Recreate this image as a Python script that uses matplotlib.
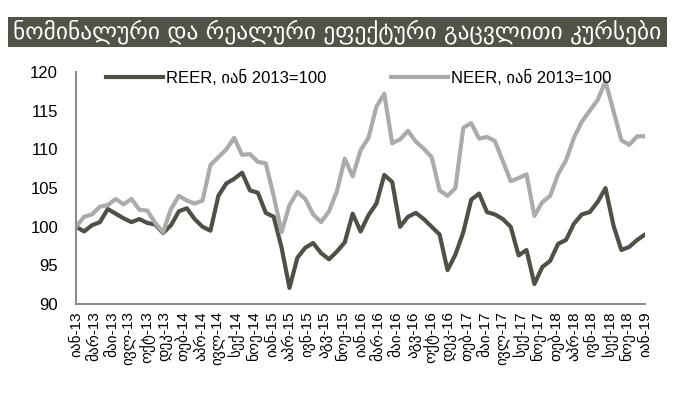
import matplotlib
matplotlib.use("Agg")
import matplotlib.pyplot as plt
from matplotlib.patches import Rectangle
import numpy as np

title = "ნომინალური და რეალური ეფექტური გაცვლითი კურსები"
reer_label = "REER, იან 2013=100"
neer_label = "NEER, იან 2013=100"

# monthly, Jan-2013 .. Jan-2019
reer = [100.0, 99.4, 100.2, 100.6, 102.3, 101.7, 101.1, 100.6, 101.0, 100.5,
        100.3, 99.2, 100.2, 102.0, 102.4, 101.0, 100.0, 99.5, 104.0, 105.6,
        106.2, 107.0, 104.7, 104.4, 101.8, 101.3, 97.3, 92.1, 96.0, 97.3,
        97.9, 96.6, 95.8, 96.8, 98.0, 101.7, 99.4, 101.5, 103.0, 106.7,
        105.8, 100.0, 101.3, 101.8, 101.0, 100.0, 99.0, 94.4, 96.4, 99.3,
        103.5, 104.3, 101.9, 101.6, 101.0, 100.0, 96.3, 97.0, 92.6, 94.8,
        95.6, 97.8, 98.3, 100.4, 101.6, 101.9, 103.2, 105.0, 100.2, 97.0,
        97.4, 98.3, 99.0]
neer = [100.0, 101.3, 101.6, 102.6, 102.8, 103.6, 102.9, 103.6, 102.2, 102.1,
        100.5, 99.3, 102.3, 104.0, 103.4, 103.0, 103.4, 108.0, 109.0, 110.0,
        111.5, 109.3, 109.4, 108.4, 108.2, 104.0, 99.3, 102.8, 104.5, 103.6,
        101.6, 100.6, 102.0, 104.6, 108.8, 106.5, 109.9, 111.5, 115.5, 117.2,
        110.8, 111.3, 112.4, 111.0, 110.1, 109.0, 104.7, 104.0, 105.0, 112.8,
        113.4, 111.4, 111.6, 111.1, 108.5, 105.9, 106.3, 106.8, 101.4, 103.2,
        104.0, 106.8, 108.6, 111.5, 113.6, 115.0, 116.4, 118.8, 115.0, 111.2,
        110.6, 111.7, 111.7]
tick_labels = ["იან-13", "მარ-13", "მაი-13", "ივლ-13", "ოქტ-13", "დეკ-13",
               "თებ-14", "აპრ-14", "ივლ-14", "სექ-14", "ნოე-14", "იან-15",
               "აპრ-15", "ივნ-15", "აგვ-15", "ნოე-15", "იან-16", "მარ-16",
               "მაი-16", "აგვ-16", "ოქტ-16", "დეკ-16", "თებ-17", "მაი-17",
               "ივლ-17", "სექ-17", "ნოე-17", "თებ-18", "აპრ-18", "ივნ-18",
               "სექ-18", "ნოე-18", "იან-19"]
y_ticks = [90, 95, 100, 105, 110, 115, 120]

fam = ["Liberation Sans", "DejaVu Sans"]
plt.rcParams["font.family"] = fam

fig = plt.figure(figsize=(6.74, 4.05), dpi=100)
fig.patches.append(Rectangle((0.012, 0.884), 0.978, 0.074, transform=fig.transFigure,
                             facecolor="#525247", edgecolor="none", zorder=0))
fig.text(0.019, 0.921, title, color="white", fontsize=16.8, va="center", ha="left",
         family=["DejaVu Sans"])

ax = fig.add_axes([0.113, 0.249, 0.844, 0.573])
x = np.arange(len(reer))
ax.plot(x, reer, color="#4F5046", lw=3, solid_joinstyle="round", label=reer_label)
ax.plot(x, neer, color="#ABABAB", lw=3, solid_joinstyle="round", label=neer_label)

ax.set_xlim(0, len(reer) - 1)
ax.set_ylim(90, 120)
ax.set_yticks(y_ticks)
ax.set_xticks(np.linspace(0, len(reer) - 1, len(tick_labels)))
ax.set_xticklabels(tick_labels, rotation=90, fontsize=11)
ax.tick_params(axis="y", length=0, pad=13, labelsize=12)
ax.tick_params(axis="x", length=0, pad=5)
for s in ["top", "right"]:
    ax.spines[s].set_visible(False)
for s in ["left", "bottom"]:
    ax.spines[s].set_color("#8C8C8C")
    ax.spines[s].set_linewidth(1.5)

ax.legend(loc="upper center", bbox_to_anchor=(0.497, 1.075), ncol=2, frameon=False,
          fontsize=12, handlelength=3.4, columnspacing=3.9, handletextpad=0.2)

fig.savefig("out.png", dpi=100)
